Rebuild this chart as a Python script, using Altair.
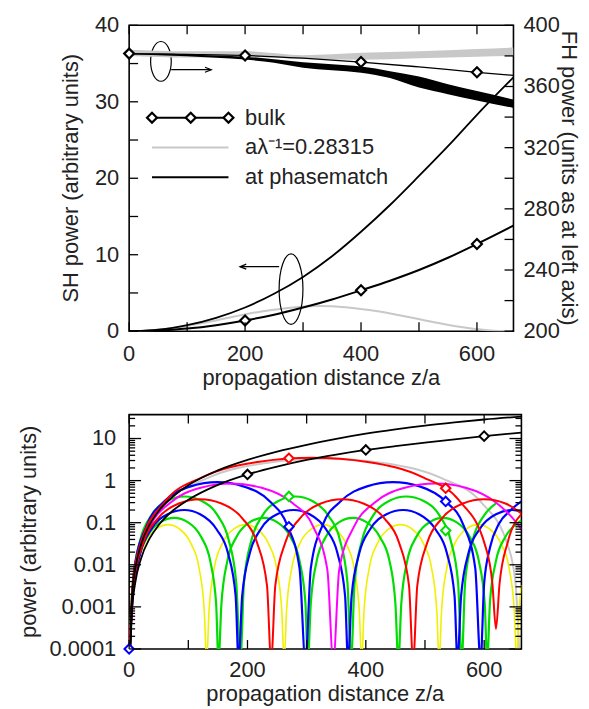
import altair as alt
import pandas as pd

X_MAX = 663

# ---------------- SH power (shared by both panels) ----------------
pm_x = [0, 5, 10, 20, 35, 50, 75, 100, 150, 200, 250, 300, 350, 400, 450, 500, 550, 600, 663]
pm_y = [1e-5, 0.0019, 0.0075, 0.03, 0.092, 0.19, 0.43, 0.78, 1.75, 3.1, 4.9, 7.1, 9.8, 13.0, 16.5, 20.3, 24.2, 28.3, 33.2]
bulk_x = [0, 5, 10, 20, 35, 50, 75, 100, 150, 200, 250, 300, 350, 400, 450, 500, 550, 600, 663]
bulk_y = [1e-5, 0.0009, 0.0035, 0.014, 0.043, 0.088, 0.2, 0.35, 0.79, 1.4, 2.15, 3.1, 4.15, 5.35, 6.6, 8.0, 9.6, 11.4, 13.8]
bulk_marks = [200, 400, 600]
gray_x = [0, 7, 20, 66, 132, 231, 330, 429, 528, 594, 640, 653, 660]
gray_y = [5e-5, 0.0037, 0.029, 0.315, 1.14, 2.62, 3.3, 2.62, 1.14, 0.315, 0.029, 0.0037, 5e-5]

# ---------------- FH power (top panel, right axis) ----------------
fhb_x = [0, 100, 200, 300, 400, 500, 600, 663]
fhb_y = [381.5, 381.0, 380.3, 378.5, 376.0, 372.8, 369.3, 367.3]
fhb_marks = [0, 200, 400, 600]
fhp_x = [0, 50, 100, 150, 200, 250, 300, 350, 400, 450, 500, 550, 600, 663]
fhp_lo = [381.0, 380.5, 379.8, 378.8, 377.6, 375.5, 372.3, 370.6, 369.0, 365.5, 359.3, 355.0, 350.8, 346.0]
fhp_hi = [381.8, 381.5, 381.0, 380.3, 379.5, 377.8, 375.8, 374.5, 373.0, 370.0, 366.5, 361.5, 357.0, 351.5]
fhg_x = [0, 100, 200, 300, 400, 500, 600, 663]
fhg_lo = [380.0, 379.0, 379.5, 378.0, 377.5, 378.5, 379.5, 380.0]
fhg_hi = [384.0, 383.0, 383.0, 380.5, 382.0, 383.0, 384.5, 385.5]

# ---------------- bottom panel detuned curves ----------------
yel_x = [0, 4, 13, 26, 46, 66, 85, 105, 118, 127,
         131, 135, 144, 157, 177, 197, 216, 236, 249, 258,
         262, 266, 275, 288, 308, 328, 347, 367, 380, 389,
         393, 397, 406, 419, 439, 459, 478, 498, 511, 520,
         524, 528, 537, 550, 570, 590, 609, 629, 642, 651,
         655, 659, 663]
yel_y = [5e-5, 0.0008, 0.0086, 0.031, 0.071, 0.09, 0.071, 0.031, 0.0086, 0.0008,
         5e-5, 0.0008, 0.0086, 0.031, 0.071, 0.09, 0.071, 0.031, 0.0086, 0.0008,
         5e-5, 0.0008, 0.0086, 0.031, 0.071, 0.09, 0.071, 0.031, 0.0086, 0.0008,
         5e-5, 0.0008, 0.0086, 0.031, 0.071, 0.09, 0.071, 0.031, 0.0086, 0.0008,
         5e-5, 0.0008, 0.0086, 0.031, 0.071, 0.09, 0.071, 0.031, 0.0086, 0.0008,
         5e-5, 0.0008, 0.0033]
gra_x = [0, 5, 15, 30, 53, 76, 99, 122, 137, 147,
         151, 156, 166, 181, 204, 227, 250, 273, 288, 298,
         302, 307, 317, 332, 355, 378, 401, 424, 440, 450,
         455, 460, 470, 485, 508, 530, 553, 576, 591, 601,
         605, 610, 620, 635, 650, 663]
gra_y = [5e-5, 0.0012, 0.0124, 0.045, 0.103, 0.13, 0.103, 0.045, 0.0124, 0.0012,
         5e-5, 0.0012, 0.0124, 0.045, 0.103, 0.13, 0.103, 0.045, 0.0124, 0.0012,
         5e-5, 0.0012, 0.0124, 0.045, 0.103, 0.13, 0.103, 0.045, 0.0124, 0.0012,
         5e-5, 0.0012, 0.0124, 0.045, 0.103, 0.13, 0.103, 0.045, 0.0124, 0.0012,
         5e-5, 0.0014, 0.0124, 0.044, 0.083, 0.113]
grb_x = [0, 6, 19, 37, 65, 94, 122, 150, 168, 181,
         188, 194, 207, 225, 253, 281, 309, 337, 356, 369,
         375, 381, 394, 412, 440, 468, 497, 525, 543, 556,
         562, 568, 581, 600, 620]
grb_y = [5e-5, 0.0037, 0.040, 0.145, 0.333, 0.42, 0.333, 0.145, 0.040, 0.0037,
         5e-5, 0.0037, 0.040, 0.145, 0.333, 0.42, 0.333, 0.145, 0.040, 0.0037,
         5e-5, 0.0037, 0.040, 0.145, 0.333, 0.42, 0.333, 0.145, 0.040, 0.0037,
         5e-5, 0.0042, 0.040, 0.149, 0.287]
bls_x = [0, 6, 19, 37, 65, 93, 120, 148, 167, 180,
         185, 191, 204, 222, 250, 278, 305, 333, 352, 365,
         370, 376, 389, 407, 435, 463, 490, 518, 537, 550,
         555, 561, 574, 592, 620, 648, 663]
bls_y = [5e-5, 0.0018, 0.019, 0.069, 0.159, 0.2, 0.159, 0.069, 0.019, 0.0018,
         5e-5, 0.0018, 0.019, 0.069, 0.159, 0.2, 0.159, 0.069, 0.019, 0.0018,
         5e-5, 0.0018, 0.019, 0.069, 0.159, 0.2, 0.159, 0.069, 0.019, 0.0018,
         5e-5, 0.0018, 0.02, 0.069, 0.159, 0.2, 0.18]
blb_x = [0, 9, 30, 59, 104, 149, 193, 238, 267, 288,
         298, 307, 327, 357, 402, 446, 491, 535, 565, 585,
         594, 600, 610, 625, 645, 663]
blb_y = [5e-5, 0.0082, 0.088, 0.318, 0.73, 0.92, 0.73, 0.318, 0.088, 0.0082,
         5e-5, 0.0082, 0.088, 0.318, 0.73, 0.92, 0.73, 0.318, 0.088, 0.0082,
         5e-5, 0.0036, 0.026, 0.094, 0.2, 0.32]
mag_x = [0, 10, 35, 69, 121, 173, 224, 276, 311, 335,
         345, 355, 380, 414, 466, 518, 569, 621, 656, 663]
mag_y = [5e-5, 0.0076, 0.081, 0.294, 0.675, 0.85, 0.675, 0.294, 0.081, 0.0076,
         5e-5, 0.0076, 0.081, 0.294, 0.675, 0.85, 0.675, 0.294, 0.095, 0.07]
rdm_x = [0, 7, 24, 48, 84, 120, 156, 192, 216, 233,
         240, 247, 264, 288, 324, 360, 396, 432, 456, 473,
         480, 487, 504, 528, 564, 600, 636, 663]
rdm_y = [5e-5, 0.0032, 0.034, 0.124, 0.286, 0.36, 0.286, 0.124, 0.034, 0.0032,
         5e-5, 0.0032, 0.034, 0.124, 0.286, 0.36, 0.286, 0.124, 0.034, 0.0032,
         5e-5, 0.0032, 0.034, 0.124, 0.286, 0.36, 0.286, 0.165]
rdb_x = [0, 6, 19, 62, 124, 217, 310, 403, 496, 558, 601, 614, 620, 626, 640, 663]
rdb_y = [5e-5, 0.0035, 0.031, 0.334, 1.21, 2.78, 3.5, 2.78, 1.21, 0.334, 0.031, 0.0035, 0.0003, 0.0035, 0.035, 0.16]

mk_x = [200, 400, 600, 270, 535, 0, 270, 535, 270, 535]
mk_y = [1.4, 5.35, 11.4, 3.4, 0.66, 0.0001, 0.08, 0.32, 0.42, 0.065]
mk_c = ["black", "black", "black", "red", "red", "blue", "blue", "blue", "green", "green"]

# ---------------- ticks / labels ----------------
x_ticks = [0, 100, 200, 300, 400, 500, 600]
x_labels = [0, 200, 400, 600]
sh_ticks = [0, 5, 10, 15, 20, 25, 30, 35, 40]
sh_labels = [0, 10, 20, 30, 40]
fh_ticks = [200, 220, 240, 260, 280, 300, 320, 340, 360, 380, 400]
fh_labels = [200, 240, 280, 320, 360, 400]
log_major = [0.0001, 0.001, 0.01, 0.1, 1, 10]
log_mult = [2, 3, 4, 5, 6, 7, 8, 9]
log_minor = [m * d for d in log_major for m in log_mult if m * d <= 37]

XTITLE = "propagation distance z/a"
SH_TITLE = "SH power (arbitrary units)"
FH_TITLE = "FH power (units as at left axis)"
LOG_TITLE = "power (arbitrary units)"

FONT = "Liberation Sans"
FS = 22
TXT = "#222222"
COL = {"black": "black", "red": "#ff0000", "blue": "#0000ff", "green": "#00dd00",
       "magenta": "#ff00ff", "yellow": "#f0f000", "gray": "#c8c8c8"}

W1, H1 = 387, 308
W2, H2 = 395, 236

xs1 = alt.Scale(domain=[0, X_MAX], nice=False, zero=False)
xs2 = alt.Scale(domain=[0, X_MAX], nice=False, zero=False)
sh_s = alt.Scale(domain=[0, 40], nice=False)
fh_s = alt.Scale(domain=[200, 400], nice=False)
lg_s = alt.Scale(type="log", domain=[0.0001, 37], nice=False)

one = pd.DataFrame({"a": [0]})


def df(**kw):
    return pd.DataFrame(kw)


def text_at(txt, x, y, angle=0, align="center"):
    return alt.Chart(one).mark_text(text=txt, font=FONT, fontSize=FS, color=TXT, angle=angle,
                                    align=align, baseline="middle").encode(x=alt.value(x), y=alt.value(y))


def x_tick_layers(W, H, xscale, label_off, title_off):
    t = pd.DataFrame({"t": x_ticks})
    lab = pd.DataFrame({"t": x_labels})
    return [
        alt.Chart(t).mark_rule(color="black", strokeWidth=1.3).encode(
            x=alt.X("t:Q", scale=xscale, axis=None), y=alt.value(H), y2=alt.value(H - 9)),
        alt.Chart(t).mark_rule(color="black", strokeWidth=1.3).encode(
            x=alt.X("t:Q", scale=xscale, axis=None), y=alt.value(0), y2=alt.value(9)),
        alt.Chart(lab).mark_text(font=FONT, fontSize=FS, color=TXT, baseline="middle", align="center").encode(
            x=alt.X("t:Q", scale=xscale, axis=None), y=alt.value(H + label_off), text=alt.Text("t:Q", format="d")),
        text_at(XTITLE, W / 2, H + title_off),
    ]


def y_tick_layers(vals, L, W, yscale, left=True, right=True):
    tt = pd.DataFrame({"t": vals})
    out = []
    if left:
        out.append(alt.Chart(tt).mark_rule(color="black", strokeWidth=1.3).encode(
            y=alt.Y("t:Q", scale=yscale, axis=None), x=alt.value(0), x2=alt.value(L)))
    if right:
        out.append(alt.Chart(tt).mark_rule(color="black", strokeWidth=1.3).encode(
            y=alt.Y("t:Q", scale=yscale, axis=None), x=alt.value(W), x2=alt.value(W - L)))
    return out


def y_labels(vals, yscale, x, align, fmt):
    return alt.Chart(pd.DataFrame({"t": vals})).mark_text(font=FONT, fontSize=FS, color=TXT, baseline="middle",
                                                          align=align).encode(
        y=alt.Y("t:Q", scale=yscale, axis=None), x=alt.value(x), text=alt.Text("t:Q", format=fmt))


# ================= TOP PANEL =================
sh_layers = [
    alt.Chart(df(x=gray_x, y=gray_y)).mark_line(color=COL["gray"], strokeWidth=2, interpolate="monotone", clip=True).encode(
        x=alt.X("x:Q", scale=xs1, axis=None), y=alt.Y("y:Q", scale=sh_s, axis=None)),
    alt.Chart(df(x=pm_x, y=pm_y)).mark_line(color="black", strokeWidth=1.8, interpolate="monotone", clip=True).encode(
        x=alt.X("x:Q", scale=xs1, axis=None), y=alt.Y("y:Q", scale=sh_s, axis=None)),
    alt.Chart(df(x=bulk_x, y=bulk_y)).mark_line(color="black", strokeWidth=2, interpolate="monotone", clip=True).encode(
        x=alt.X("x:Q", scale=xs1, axis=None), y=alt.Y("y:Q", scale=sh_s, axis=None)),
    alt.Chart(df(x=bulk_x, y=bulk_y)).transform_filter(alt.FieldOneOfPredicate(field="x", oneOf=bulk_marks)).mark_point(
        shape="diamond", size=100, fill="white", fillOpacity=1, stroke="black", strokeWidth=2.2, opacity=1).encode(
        x=alt.X("x:Q", scale=xs1, axis=None), y=alt.Y("y:Q", scale=sh_s, axis=None)),
]
sh_layers += x_tick_layers(W1, H1, xs1, 23, 47)
sh_layers += y_tick_layers(sh_ticks, 9, W1, sh_s, left=True, right=False)
sh_layers.append(y_labels(sh_labels, sh_s, -10, "right", "d"))
sh_layers.append(text_at(SH_TITLE, -59, H1 / 2, angle=270))
# invisible spacer so both panels have the same left extent
sh_layers.append(alt.Chart(one).mark_rule(strokeOpacity=0, color="white").encode(
    x=alt.value(-112), x2=alt.value(-110), y=alt.value(H1 / 2)))

# annotations: ellipses and arrows
ELL1 = "M 0.52 0 C 0.52 0.5523 0.287 1 0 1 C -0.287 1 -0.52 0.5523 -0.52 0 C -0.52 -0.5523 -0.287 -1 0 -1 C 0.287 -1 0.52 -0.5523 0.52 0 Z"
ELL2 = "M 0.338 0 C 0.338 0.5523 0.187 1 0 1 C -0.187 1 -0.338 0.5523 -0.338 0 C -0.338 -0.5523 -0.187 -1 0 -1 C 0.187 -1 0.338 -0.5523 0.338 0 Z"
HEAD_R = "M -1 -0.4 L 0 0 L -1 0.4"
HEAD_L = "M 1 -0.4 L 0 0 L 1 0.4"
ann = [
    alt.Chart(one).mark_point(shape=ELL1, size=1600, filled=False, stroke="black", strokeWidth=1.2, opacity=1).encode(
        x=alt.value(32), y=alt.value(36.3)),
    alt.Chart(one).mark_rule(color="black", strokeWidth=1.2).encode(x=alt.value(42.3), x2=alt.value(82.7), y=alt.value(44.7)),
    alt.Chart(one).mark_point(shape=HEAD_R, size=160, filled=False, stroke="black", strokeWidth=1.2, opacity=1).encode(
        x=alt.value(82.7), y=alt.value(44.7)),
    alt.Chart(one).mark_point(shape=ELL2, size=5041, filled=False, stroke="black", strokeWidth=1.2, opacity=1).encode(
        x=alt.value(163), y=alt.value(265.7)),
    alt.Chart(one).mark_rule(color="black", strokeWidth=1.2).encode(x=alt.value(111.6), x2=alt.value(151), y=alt.value(243)),
    alt.Chart(one).mark_point(shape=HEAD_L, size=160, filled=False, stroke="black", strokeWidth=1.2, opacity=1).encode(
        x=alt.value(111.6), y=alt.value(243)),
]
# legend
leg_rows = [("bulk", "black", 2.0, 93), ("aλ⁻¹=0.28315", COL["gray"], 2.0, 123), ("at phasematch", "black", 1.8, 153)]
for label, c, w, yy in leg_rows:
    ann.append(alt.Chart(one).mark_rule(color=c, strokeWidth=w).encode(x=alt.value(23), x2=alt.value(100), y=alt.value(yy)))
    ann.append(text_at(label, 116.7, yy, align="left"))
for xx in [23, 62, 100]:
    ann.append(alt.Chart(one).mark_point(shape="diamond", size=100, fill="white", fillOpacity=1, stroke="black",
                                         strokeWidth=2.2, opacity=1).encode(x=alt.value(xx), y=alt.value(93)))
sh_layers += ann

fh_layers = [
    alt.Chart(df(x=fhg_x, lo=fhg_lo, hi=fhg_hi)).mark_area(color=COL["gray"], interpolate="monotone", clip=True).encode(
        x=alt.X("x:Q", scale=xs1, axis=None), y=alt.Y("lo:Q", scale=fh_s, axis=None), y2="hi:Q"),
    alt.Chart(df(x=fhp_x, lo=fhp_lo, hi=fhp_hi)).mark_area(color="black", interpolate="monotone", clip=True).encode(
        x=alt.X("x:Q", scale=xs1, axis=None), y=alt.Y("lo:Q", scale=fh_s, axis=None), y2="hi:Q"),
    alt.Chart(df(x=fhb_x, y=fhb_y)).mark_line(color="black", strokeWidth=1.3, interpolate="monotone", clip=True).encode(
        x=alt.X("x:Q", scale=xs1, axis=None), y=alt.Y("y:Q", scale=fh_s, axis=None)),
    alt.Chart(df(x=fhb_x, y=fhb_y)).transform_filter(alt.FieldOneOfPredicate(field="x", oneOf=fhb_marks)).mark_point(
        shape="diamond", size=100, fill="white", fillOpacity=1, stroke="black", strokeWidth=2.2, opacity=1).encode(
        x=alt.X("x:Q", scale=xs1, axis=None), y=alt.Y("y:Q", scale=fh_s, axis=None)),
]
fh_layers += y_tick_layers(fh_ticks, 9, W1, fh_s, left=False, right=True)
fh_layers.append(y_labels(fh_labels, fh_s, W1 + 10, "left", "d"))
fh_layers.append(text_at(FH_TITLE, W1 + 56, H1 / 2, angle=90))

top = alt.layer(alt.layer(*sh_layers), alt.layer(*fh_layers)).resolve_scale(y="independent").properties(
    width=W1, height=H1)

# ================= BOTTOM PANEL =================
curves = [
    (gray_x, gray_y, "gray", 2.0),
    (yel_x, yel_y, "yellow", 1.6),
    (gra_x, gra_y, "green", 2.2),
    (grb_x, grb_y, "green", 2.2),
    (bls_x, bls_y, "blue", 2.2),
    (blb_x, blb_y, "blue", 2.2),
    (mag_x, mag_y, "magenta", 2.0),
    (rdm_x, rdm_y, "red", 2.0),
    (rdb_x, rdb_y, "red", 2.0),
    (pm_x, pm_y, "black", 1.8),
    (bulk_x, bulk_y, "black", 1.8),
]
bot_layers = []
for cx, cy, c, w in curves:
    bot_layers.append(
        alt.Chart(df(x=cx, y=cy)).mark_line(color=COL[c], strokeWidth=w, interpolate="monotone", clip=True).encode(
            x=alt.X("x:Q", scale=xs2, axis=None), y=alt.Y("y:Q", scale=lg_s, axis=None)))
bot_layers.append(
    alt.Chart(df(x=mk_x, y=mk_y, c=mk_c)).mark_point(shape="diamond", size=90, fill="white", fillOpacity=1,
                                                    strokeWidth=2, opacity=1).encode(
        x=alt.X("x:Q", scale=xs2, axis=None), y=alt.Y("y:Q", scale=lg_s, axis=None),
        stroke=alt.Stroke("c:N", scale=alt.Scale(domain=["black", "red", "blue", "green"],
                                                 range=[COL["black"], COL["red"], COL["blue"], COL["green"]]),
                          legend=None)))
bot_layers += x_tick_layers(W2, H2, xs2, 21, 45)
bot_layers += y_tick_layers(log_major, 12, W2, lg_s)
bot_layers += y_tick_layers(log_minor, 6, W2, lg_s)
bot_layers.append(y_labels(log_major, lg_s, -13, "right", "~g"))
bot_layers.append(text_at(LOG_TITLE, -101, H2 / 2, angle=270))

bottom = alt.layer(*bot_layers).properties(width=W2, height=H2)

chart = alt.vconcat(top, bottom, spacing=23).properties(
    padding={"left": 9, "top": 3, "right": 0, "bottom": 0}, background="white"
).configure_view(stroke="black", strokeWidth=1.6)

chart.save("out.html", embed_options={"renderer": "svg", "actions": False})
